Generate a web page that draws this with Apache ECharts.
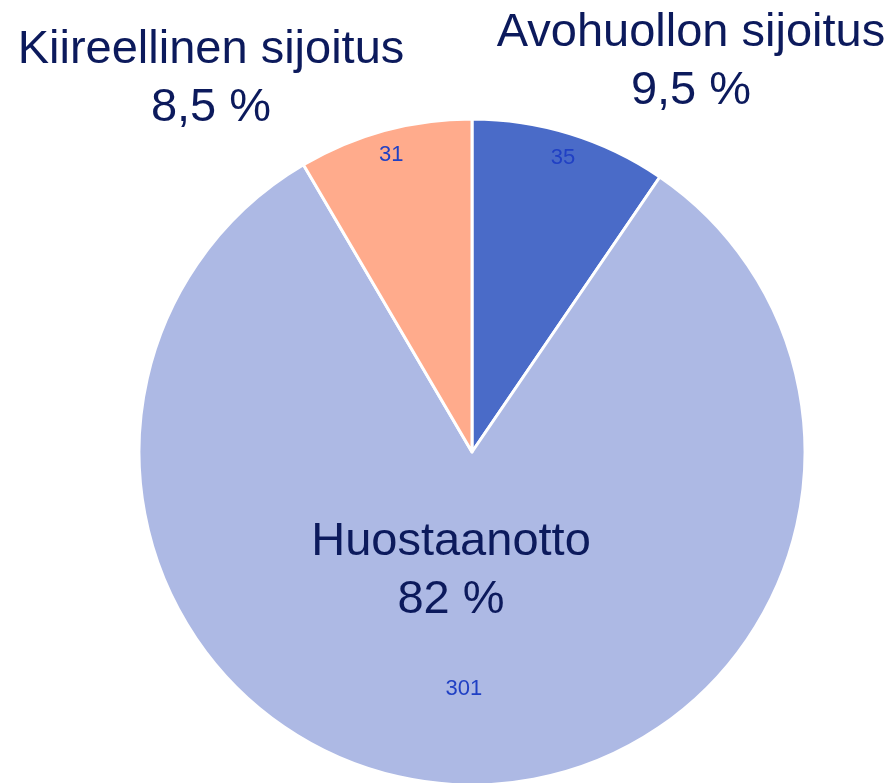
<!DOCTYPE html>
<html>
<head>
<meta charset="utf-8">
<script src="https://cdn.jsdelivr.net/npm/echarts@6/dist/echarts.min.js"></script>
<style>
  html, body { margin: 0; padding: 0; background: #fff; }
  #chart { width: 896px; height: 783px; }
</style>
</head>
<body>
<div id="chart"></div>
<script>
const categories = ['Avohuollon sijoitus', 'Huostaanotto', 'Kiireellinen sijoitus'];
const values = [35, 301, 31];
const shares = ['9,5 %', '82 %', '8,5 %'];
const colors = ['#4a6bc8', '#adb9e4', '#ffab8c'];

// where the big name labels sit (centre of the two-line block)
const namePos = [[691, 62], [451, 571], [211, 79]];

let myChart = echarts.init(document.getElementById('chart'));
let center = [472, 452];
let R = 333;

let pieData = categories.map((c, i) => ({ name: c, value: values[i], itemStyle: { color: colors[i] } }));
let ghost = (show) => categories.map((c, i) => ({
  name: c, value: values[i],
  itemStyle: { color: 'rgba(0,0,0,0)' },
  label: { show: show[i] }
}));

let option = {
  animation: false,
  series: [
    {
      type: 'pie',
      center: center,
      radius: [0, R],
      startAngle: 90,
      clockwise: true,
      silent: true,
      itemStyle: { borderColor: '#fff', borderWidth: 3 },
      label: {
        show: true,
        position: 'inside',
        formatter: (p) => p.name + '\n' + shares[p.dataIndex],
        fontFamily: 'Liberation Sans, Arial, sans-serif',
        fontSize: 47,
        lineHeight: 58,
        color: '#0c1a5c',
        align: 'center'
      },
      labelLine: { show: false },
      labelLayout: (p) => ({
        x: namePos[p.dataIndex][0],
        y: namePos[p.dataIndex][1],
        align: 'center',
        verticalAlign: 'middle'
      }),
      data: pieData
    },
    {
      type: 'pie',
      center: center,
      radius: [277, R],
      startAngle: 90,
      silent: true,
      label: {
        position: 'inside',
        formatter: '{c}',
        fontFamily: 'Liberation Sans, Arial, sans-serif',
        fontSize: 22,
        color: '#2040c4'
      },
      labelLine: { show: false },
      data: ghost([true, false, true])
    },
    {
      type: 'pie',
      center: center,
      radius: [135, R],
      startAngle: 90,
      silent: true,
      label: {
        position: 'inside',
        formatter: '{c}',
        fontFamily: 'Liberation Sans, Arial, sans-serif',
        fontSize: 22,
        color: '#2040c4'
      },
      labelLine: { show: false },
      data: ghost([false, true, false])
    }
  ]
};

option && myChart.setOption(option);
</script>
</body>
</html>
